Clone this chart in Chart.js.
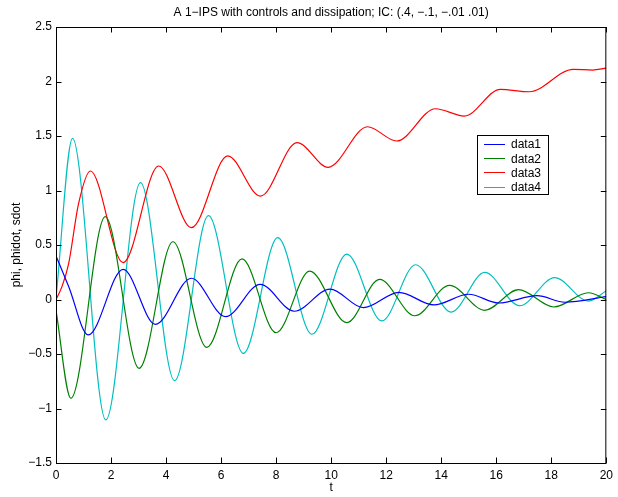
<!DOCTYPE html>
<html>
<head>
<meta charset="utf-8">
<script src="https://cdn.jsdelivr.net/npm/chart.js@4"></script>
<style>
  html, body { margin: 0; padding: 0; background: #ffffff; }
  #wrap { width: 618px; height: 497px; }
</style>
</head>
<body>
<div id="wrap"><canvas id="plot" width="618" height="497"></canvas></div>
<script>
// values (peaks, troughs, a few in-between points)
const t1 = [0, 0.46, 1.17, 2.44, 3.61, 4.92, 6.16, 7.42, 8.66, 9.96, 11.17, 12.46, 13.73, 15.0, 16.09, 17.48, 18.5, 20];
const data1 = [0.40, 0.12, -0.325, 0.277, -0.228, 0.195, -0.158, 0.139, -0.108, 0.096, -0.075, 0.066, -0.05, 0.048, -0.032, 0.035, -0.025, 0.026];

const t2 = [0, 0.54, 1.79, 3.02, 4.25, 5.48, 6.76, 8.0, 9.22, 10.57, 11.76, 13.04, 14.3, 15.58, 16.81, 18.09, 19.35, 20];
const data2 = [-0.1, -0.906, 0.76, -0.631, 0.53, -0.439, 0.372, -0.305, 0.261, -0.213, 0.185, -0.149, 0.13, -0.099, 0.09, -0.069, 0.062, 0.0];

const t3 = [0, 0.22, 0.46, 0.82, 1.25, 2.44, 3.73, 4.92, 6.24, 7.43, 8.76, 9.89, 11.32, 12.38, 13.79, 14.84, 16.15, 17.2, 18.8, 19.5, 20];
const data3 = [0, 0.12, 0.33, 0.88, 1.179, 0.338, 1.225, 0.659, 1.317, 0.949, 1.439, 1.213, 1.585, 1.454, 1.75, 1.683, 1.928, 1.906, 2.112, 2.105, 2.122];

const t4 = [0, 0.6, 1.81, 3.07, 4.31, 5.54, 6.81, 8.06, 9.3, 10.57, 11.84, 13.07, 14.36, 15.58, 16.85, 18.12, 19.35, 20];
const data4 = [0.01, 1.479, -1.105, 1.072, -0.745, 0.769, -0.494, 0.567, -0.319, 0.417, -0.197, 0.319, -0.115, 0.249, -0.057, 0.2, -0.014, 0.08];

const xTicks = [0, 2, 4, 6, 8, 10, 12, 14, 16, 18, 20];
const yTicks = [-1.5, -1, -0.5, 0, 0.5, 1, 1.5, 2, 2.5];

const seriesNames = ['data1', 'data2', 'data3', 'data4'];
const seriesColors = ['#0000ff', '#008000', '#ff0000', '#00bfbf'];

const titleText = 'A 1\u2212IPS with controls and dissipation; IC: (.4, \u2212.1, \u2212.01 .01)';
const FONT = '"Liberation Sans", Arial, Helvetica, sans-serif';
const FSIZE = 12;

function pts(ts, vs) {
  return ts.map((t, i) => ({ x: t, y: vs[i] }));
}

function fmt(v) {
  return String(v).replace('-', '\u2212');
}

// matlab style box, inward ticks, title, axis labels and legend
const matlabDecor = {
  id: 'matlabDecor',
  afterDraw(chart) {
    const ctx = chart.ctx;
    const a = chart.chartArea;
    const xs = chart.scales.x, ys = chart.scales.y;
    const tl = 5.5;
    ctx.save();
    ctx.strokeStyle = '#000';
    ctx.lineWidth = 1;
    ctx.strokeRect(a.left + 0.5, a.top + 0.5, a.right - a.left - 1, a.bottom - a.top);
    ctx.beginPath();
    xTicks.forEach(v => {
      const px = Math.round(xs.getPixelForValue(v)) + 0.5;
      ctx.moveTo(px, a.bottom); ctx.lineTo(px, a.bottom - tl);
      ctx.moveTo(px, a.top); ctx.lineTo(px, a.top + tl);
    });
    yTicks.forEach(v => {
      const py = Math.round(ys.getPixelForValue(v)) + 0.5;
      ctx.moveTo(a.left, py); ctx.lineTo(a.left + tl, py);
      ctx.moveTo(a.right, py); ctx.lineTo(a.right - tl, py);
    });
    ctx.stroke();

    ctx.fillStyle = '#000';
    ctx.font = FSIZE + 'px ' + FONT;
    ctx.textAlign = 'center';
    ctx.textBaseline = 'middle';
    const cx = (a.left + a.right) / 2;
    ctx.fillText(titleText, cx, 13);
    ctx.fillText('t', cx, 488);
    ctx.save();
    ctx.translate(17, (a.top + a.bottom) / 2);
    ctx.rotate(-Math.PI / 2);
    ctx.fillText('phi, phidot, sdot', 0, 0);
    ctx.restore();

    // legend box
    const lx = 477, ly = 135, lw = 71, lh = 59;
    ctx.fillStyle = '#fff';
    ctx.fillRect(lx, ly, lw, lh);
    ctx.strokeRect(lx + 0.5, ly + 0.5, lw, lh);
    ctx.textAlign = 'left';
    chart.data.datasets.forEach((ds, i) => {
      const ry = ly + 9 + i * 14.2;
      ctx.strokeStyle = ds.borderColor;
      ctx.beginPath();
      ctx.moveTo(lx + 7, Math.round(ry) + 0.5);
      ctx.lineTo(lx + 28, Math.round(ry) + 0.5);
      ctx.stroke();
      ctx.fillStyle = '#000';
      ctx.fillText(ds.label, lx + 34, ry + 1);
    });
    ctx.restore();
  }
};

const chart = new Chart(document.getElementById('plot'), {
  type: 'line',
  data: {
    datasets: [data1, data2, data3, data4].map((d, i) => ({
      label: seriesNames[i],
      data: pts([t1, t2, t3, t4][i], d),
      borderColor: seriesColors[i],
      borderWidth: 1.2,
      pointRadius: 0,
      fill: false,
      cubicInterpolationMode: 'monotone'
    }))
  },
  options: {
    responsive: false,
    animation: false,
    events: [],
    layout: { padding: { top: 27, right: 10, left: 0, bottom: 0 } },
    plugins: {
      legend: { display: false },
      title: { display: false },
      tooltip: { enabled: false }
    },
    scales: {
      x: {
        type: 'linear',
        min: 0, max: 20,
        grid: { display: false, drawTicks: false },
        border: { display: false },
        afterBuildTicks: s => { s.ticks = xTicks.map(v => ({ value: v })); },
        afterFit: s => { s.height = 34; },
        ticks: { color: '#000', padding: 5, maxRotation: 0, font: { family: FONT, size: FSIZE }, callback: v => fmt(v) }
      },
      y: {
        min: -1.5, max: 2.5,
        grid: { display: false, drawTicks: false },
        border: { display: false },
        afterBuildTicks: s => { s.ticks = yTicks.map(v => ({ value: v })); },
        afterFit: s => { s.width = 56; },
        ticks: { color: '#000', padding: 4, font: { family: FONT, size: FSIZE }, callback: v => fmt(v) }
      }
    }
  },
  plugins: [matlabDecor]
});
</script>
</body>
</html>
